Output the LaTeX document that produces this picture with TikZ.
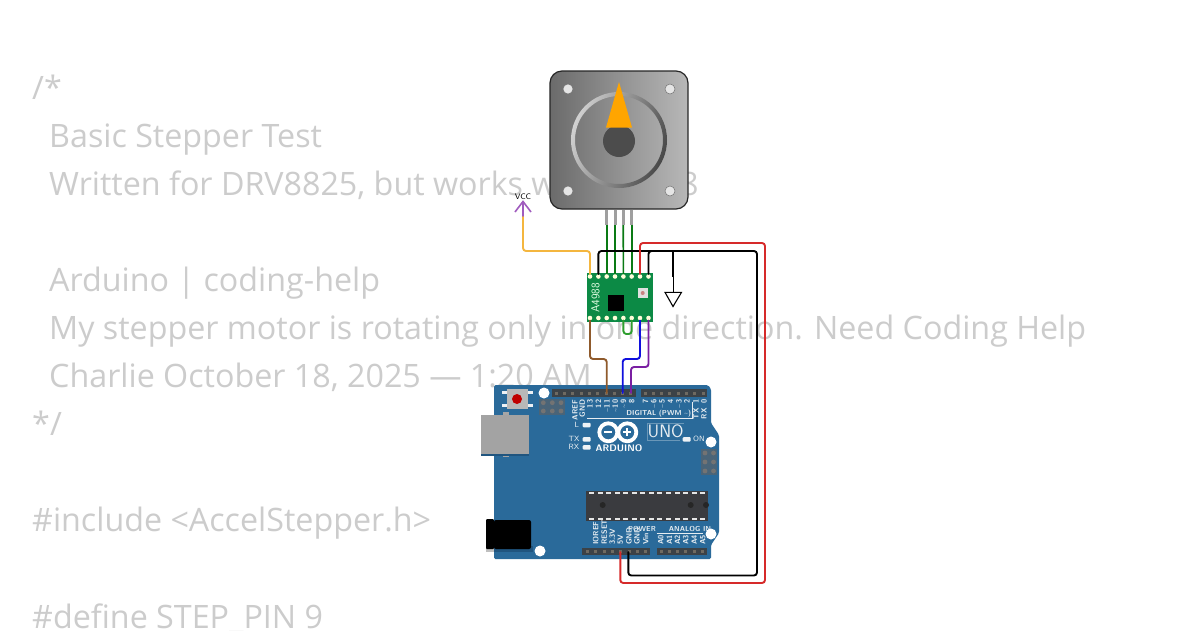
\documentclass[tikz,border=0pt]{standalone}
\usepackage{fontspec}
\setmainfont{Open Sans}
\definecolor{codegray}{HTML}{CCCCCC}
\definecolor{boardblue}{HTML}{2A6A9A}
\definecolor{boarddark}{HTML}{20557F}
\definecolor{headergray}{HTML}{3C4247}
\definecolor{pingray}{HTML}{6E6A62}
\definecolor{chipgray}{HTML}{3A3B3F}
\definecolor{icspgray}{HTML}{4A6478}
\definecolor{wgreen}{HTML}{0A7A14}
\definecolor{wloop}{HTML}{2E9E2E}
\definecolor{wred}{HTML}{D62A2A}
\definecolor{wblue}{HTML}{1010DD}
\definecolor{wpurple}{HTML}{7A1FA2}
\definecolor{wbrown}{HTML}{8F5A2C}
\definecolor{worange}{HTML}{F4B63F}
\definecolor{vccpurple}{HTML}{A05CBE}
\definecolor{drvgreen}{HTML}{0C8A45}
\definecolor{silk}{HTML}{E8EEF2}
\definecolor{needle}{HTML}{FFA500}
\tikzset{
  x=1pt,y=-1pt,
  code/.style={anchor=base west,inner sep=0pt,text=codegray,font=\fontsize{32.25}{38}\selectfont},
  wire/.style={line width=1.9pt,rounded corners=3pt,line cap=round},
  pinpt/.style={circle,fill=#1,minimum size=4.6pt,inner sep=0pt},
  hole/.style={circle,fill=#1,minimum size=11pt,inner sep=0pt},
  silkv/.style={rotate=90,inner sep=0pt,text=silk,font=\sffamily\bfseries\fontsize{7.6}{8}\selectfont},
  silkh/.style={inner sep=0pt,text=silk,font=\sffamily\bfseries\fontsize{7.2}{8}\selectfont},
  silkp/.style={inner sep=0pt,text=silk,font=\sffamily\fontsize{7.6}{8}\selectfont},
  led/.style={rectangle,fill=#1,minimum width=8pt,minimum height=4.5pt,inner sep=0pt,rounded corners=1pt},
  header/.style={fill=headergray},
  mpin/.style={line width=3pt,draw=gray!75}
}
\begin{document}
\begin{tikzpicture}
\useasboundingbox (0,0) rectangle (1200,630);
\fill[white] (0,0) rectangle (1200,630);
\begin{scope}
\clip (0,0) rectangle (1200,630);
\node[code] (c1) at (32,99.5) {/*};
\node[code] (c2) at (49,147.5) {Basic Stepper Test};
\node[code] (c3) at (49,195.5) {Written for DRV8825, but works with A4988};
\node[code] (c4) at (49,291.5) {Arduino | coding-help};
\node[code] (c5) at (49,339.5) {My stepper motor is rotating only in one direction. Need Coding Help};
\node[code] (c6) at (49,387.5) {Charlie October 18, 2025 — 1:20 AM};
\node[code] (c7) at (32,435.5) {*/};
\node[code] (c8) at (32,531.5) {\#include <AccelStepper.h>};
\node[code] (c9) at (32,628.5) {\#define STEP\_PIN 9};
\end{scope}

% ---------- Arduino board
\fill[boardblue,rounded corners=1.5pt] (494,385) -- (708,385) -- (711,389) -- (711,423) -- (719,435) -- (719,533) -- (711,545) -- (711,559) -- (494,559) -- cycle;
% usb
\fill[gray!70] (503,412) rectangle (509,457);
\fill[boarddark] (481,454) rectangle (529,456);
\fill[black!36] (481,415) rectangle (529,454);
% jack
\fill[boarddark] (494,546) rectangle (533,552);
\fill[black!25] (486,548) rectangle (494,552);
\fill[black,rounded corners=1pt] (486,519) rectangle (494,549);
\fill[black,rounded corners=2pt] (494,520) rectangle (531,549);
% reset
\fill[silk!80] (502,391) rectangle (507,394);
\fill[silk!80] (502,404) rectangle (507,407);
\fill[silk!80] (528,391) rectangle (533,394);
\fill[silk!80] (528,404) rectangle (533,407);
\fill[black!28] (507,389) rectangle (528,409);
\node[circle,fill=red!75!black,minimum size=10pt,inner sep=0pt] (reset) at (517,399) {};
% mounting holes
\node[hole=white] (h1) at (544,393) {};
\node[hole=white] (h2) at (711,442) {};
\node[hole=white] (h4) at (540,551) {};
% ICSP
\fill[icspgray] (539,399) rectangle (565,415);
\foreach \i in {543.3,552.3,561}\foreach \j in {402.7,411}{\fill[black!55] (\i,\j) circle (2.4);}
\fill[icspgray] (701,449) rectangle (717,475);
\foreach \i in {705,713.5}\foreach \j in {453,462,471}{\fill[black!55] (\i,\j) circle (2.4);}
% headers
\fill[header] (552,389) rectangle (636,396.5);
\fill[header] (641,389) rectangle (707,396.5);
\fill[header] (582,548) rectangle (649.5,555);
\fill[header] (657,548) rectangle (707,555);
\foreach \i in {0,...,9}{\fill[pingray] (556.2+8.3*\i-1.5,391.5) rectangle ++(3,3);}
\foreach \i in {0,...,7}{\fill[pingray] (645+8.3*\i-1.5,391.5) rectangle ++(3,3);}
\foreach \i in {0,...,7}{\fill[pingray] (587.5+8.3*\i-1.5,550) rectangle ++(3,3);}
\foreach \i in {0,...,5}{\fill[pingray] (661+8.3*\i-1.5,550) rectangle ++(3,3);}
% chip
\fill[chipgray] (586,491) rectangle (708,521);
\foreach \i in {0,...,13}{
  \fill[white!90!black] (589+8.55*\i,492) rectangle ++(5,1.6);
  \fill[white!90!black] (589+8.55*\i,518.4) rectangle ++(5,1.6);
}
\fill[black!85] (602.7,505) circle (3);
\fill[black!85] (690.7,505) circle (3);
\fill[black!85] (706,505) circle (3);
% digital labels
\foreach \t/\xx/\nm in {AREF/575/la,GND/582.3/lb,13/590/lc,12/598.5/ld,\textasciitilde 11/606.8/le,\textasciitilde 10/615.2/lf,\textasciitilde 9/623.5/lg,8/631.8/lh,7/645.5/li,\textasciitilde 6/653.7/lj,\textasciitilde 5/662/lk,4/670.5/ll,\textasciitilde 3/679/lm,2/687/ln,1/696/lo,0/704/lp}{
  \node[silkv,anchor=east] (\nm) at (\xx,399.5) {\t};
}
\node[silkh,anchor=east] (dig) at (691.5,414) {DIGITAL (PWM \textasciitilde)};
\draw[silk,line width=.6pt] (587,418) -- (692,418) -- (692,402);
\node[silkv,anchor=east] (ltx) at (696,408) {TX};
\node[silkv,anchor=east] (lrx) at (704,408) {RX};
% LEDs
\node[led=silk!75] (ledL) at (586.7,425) {};
\node[led=silk!75] (ledT) at (586.7,439.3) {};
\node[led=silk!75] (ledR) at (586.7,447.3) {};
\node[led=silk!75] (ledO) at (686.7,439.3) {};
\node[silkp] (tL) at (576.7,424.5) {L};
\node[silkp] (tT) at (574,439) {TX};
\node[silkp] (tR) at (574,447.3) {RX};
\node[silkp] (tO) at (699,439.3) {ON};
% logo
\draw[white,line width=3.8pt] (608.3,432.3) circle (9);
\draw[white,line width=3.8pt] (627.3,432.3) circle (9);
\fill[white] (604.3,431.3) rectangle (612.3,433.3);
\fill[white] (623.3,431.3) rectangle (631.3,433.3);
\fill[white] (626.3,428.3) rectangle (628.3,436.3);
\node[inner sep=0pt,text=white,font=\sffamily\bfseries\fontsize{9.5}{10}\selectfont] (ard) at (619,447.7) {ARDUINO};
\draw[boardblue!70!white,line width=.5pt] (684,423.3) -- (647,423.3) -- (647,440) -- (680,440);
\node[inner sep=0pt,text=silk,font=\sffamily\fontsize{18}{20}\selectfont] (uno) at (665.7,431.5) {UNO};
% bottom labels
\foreach \t/\xx/\nm in {IOREF/595.7/ba,RESET/604.3/bb,3.3V/612.3/bc,5V/620.3/bd,GND/629/be,GND/637/bf,Vin/645.7/bg,A0/660.7/bh,A1/669.3/bi,A2/677.3/bj,A3/685.7/bk,A4/694.3/bl,A5/702.7/bm}{
  \node[silkv,anchor=west] (\nm) at (\xx,545) {\t};
}
\node[silkh] (pow) at (642,529) {POWER};
\node[silkh] (ana) at (690,529) {ANALOG IN};
\draw[silk,line width=.6pt] (656.7,533.5) -- (703,533.5);
\node[hole=white] (h3) at (711,534) {};

% ---------- Stepper motor
\node[rounded corners=12pt,draw=black!85,line width=1.2pt,left color=black!58,right color=black!28,minimum width=138pt,minimum height=138pt,inner sep=0pt] (motor) at (619,140) {};
\foreach \xx/\yy/\nm in {568/89/m1,670/89/m2,568/191/m3,670/191/m4}{
  \node[circle,fill=black!10,draw=black!55,line width=.5pt,minimum size=10pt,inner sep=0pt] (\nm) at (\xx,\yy) {};
}
\shade[even odd rule,left color=black!18,right color=black!72,shading angle=70] (619,140) circle (48pt) (619,140) circle (44pt);
\node[circle,fill=black!70,minimum size=32pt,inner sep=0pt] (shaft) at (619,141) {};
\fill[needle] (619,82) -- (632,127.5) -- (606,127.5) -- cycle;
% motor pins
\foreach \i/\xx in {1/606.7,2/615,3/623.3,4/631.7}{
  \coordinate (mp\i) at (\xx,209.5);
  \coordinate (mq\i) at (\xx,225);
  \draw[mpin] (mp\i) -- (mq\i);
}

% ---------- Driver
\node[rectangle,fill=drvgreen,minimum width=66pt,minimum height=49pt,inner sep=0pt] (drv) at (620,297.5) {};
\node[rotate=90,inner sep=0pt,text=white!90!green,font=\sffamily\fontsize{11.5}{12}\selectfont] (drvt) at (595.5,298) {A4988};
\node[rectangle,fill=black,minimum size=16.5pt,inner sep=0pt] (chip) at (616,303) {};
\node[rectangle,fill=black!12,minimum size=10pt,inner sep=0pt] (pot) at (642.7,293) {};
\fill[red!40!gray!70] (642.7,293) circle (2);
\foreach \i/\xx in {1/590,2/598.4,3/606.7,4/615,5/623.4,6/631.7,7/640,8/648.5}{
  \node[pinpt=yellow!15!white] (dt\i) at (\xx,276.5) {};
  \node[pinpt=yellow!15!white] (db\i) at (\xx,318) {};
}

% ---------- Ports on the board
\coordinate (p11) at (606.7,393);
\coordinate (p9) at (622.7,393);
\coordinate (p8) at (631,393);
\coordinate (p5v) at (620.3,552);
\coordinate (pgnd) at (628.3,552);

% ---------- VCC
\node[inner sep=0pt,font=\sffamily\fontsize{8}{8}\selectfont] (vcc) at (523,196.5) {VCC};
\coordinate (vtip) at (523,201.5);
\coordinate (vbase) at (523,217);
\draw[vccpurple,line width=1.6pt] (515,212) -- (vtip) -- (531,212);
\draw[vccpurple,line width=1.6pt] (vtip) -- (vbase);

% ---------- GND
\coordinate (gj) at (673,251);
\coordinate (gm) at (673,277);
\coordinate (gt) at (673,292.3);
\draw[black,line width=1.1pt,fill=white,line join=miter] (665,292.3) -- (681.5,292.3) -- (673,306.5) -- cycle;
\draw[black,line width=.9pt] (gm) -- (gt);
\draw[black,line width=2.2pt] (gj) -- (gm);

% ---------- Wires
\foreach \i in {1,2,3,4}{
  \pgfmathtruncatemacro{\k}{\i+2}
  \draw[wgreen,line width=1.7pt] (mq\i) -- (dt\k);
}
\draw[wire,worange] (vbase) |- (590,251) -- (dt1);
\draw[wire,black] (dt2) |- (757,251) -- (757,575.5) -- (628.3,575.5) -- (pgnd);
\draw[wire,black] (dt8) |- (gj);
\draw[wire,wred] (dt7) |- (765,243) -- (765,583) -- (620.3,583) -- (p5v);
\draw[wire,wloop] (db5) -- (623.4,334) -- (631.7,334) -- (db6);
\draw[wire,wbrown] (db1) |- (606.7,359) -- (p11);
\draw[wire,wblue] (db7) |- (622.7,359) -- (p9);
\draw[wire,wpurple] (db8) |- (631,367) -- (p8);
\end{tikzpicture}
\end{document}
